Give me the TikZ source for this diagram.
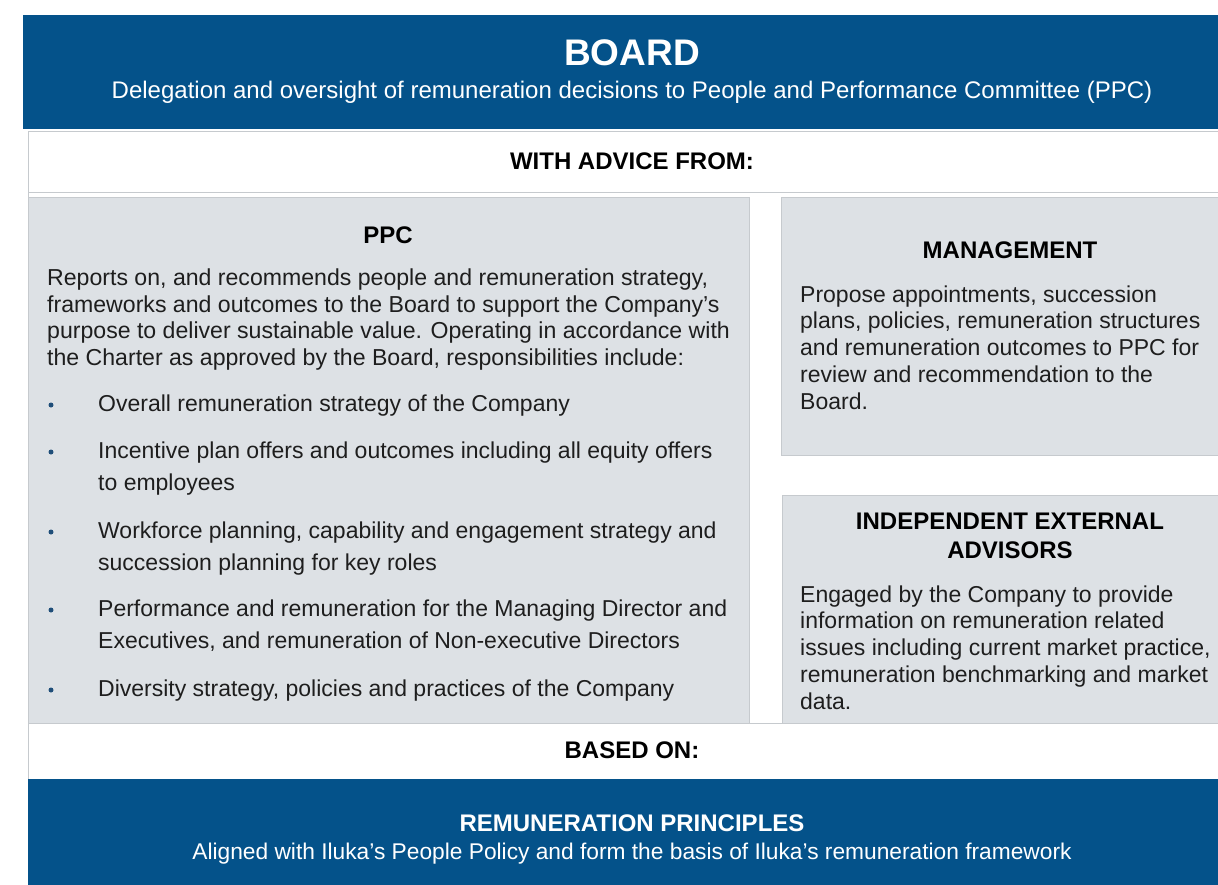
\documentclass[tikz,border=0pt]{standalone}
\usepackage{fontspec}
\setmainfont{Liberation Sans}
\definecolor{iblue}{HTML}{04528A}
\definecolor{igray}{HTML}{DDE1E5}
\definecolor{iborder}{HTML}{C6CACE}
\definecolor{itext}{HTML}{1E1E1E}
\definecolor{ibullet}{HTML}{1F4E79}
\begin{document}
\begin{tikzpicture}[x=1pt,y=-1pt,
  bluebox/.style={fill=iblue, draw=none, inner sep=0pt, anchor=north west},
  graybox/.style={fill=igray, draw=iborder, line width=0.8pt, inner sep=0pt, anchor=north west},
  whitebox/.style={fill=white, draw=iborder, line width=1pt, inner sep=0pt, anchor=north west},
  head/.style={font=\fontsize{24}{29}\selectfont\bfseries, text=black, inner sep=0pt, anchor=base, align=center},
  whitehead/.style={head, text=white},
  body/.style={font=\fontsize{23.1}{26.4}\selectfont, text=itext, inner sep=0pt, align=left, anchor=base west},
  mgmt/.style={body, font=\fontsize{23}{26.75}\selectfont},
  item/.style={body, font=\fontsize{23}{32}\selectfont},
  dot/.style={circle, fill=ibullet, inner sep=0pt, minimum size=5pt}
]
\useasboundingbox (0,0) rectangle (1218,884);
\clip (0,0) rectangle (1218,884);

% frame
\node[whitebox, minimum width=1200pt, minimum height=648pt] (frame) at (28,131) {};
\node[whitebox, minimum width=1200pt, minimum height=61pt] (advicerow) at (28,131) {};

% board
\node[bluebox, minimum width=1200pt, minimum height=114pt] (board) at (23,15) {};
\node[whitehead, font=\fontsize{37}{40}\selectfont\bfseries] (boardt) at (632,65) {BOARD};
\node[inner sep=0pt, anchor=base, text=white, font=\fontsize{24}{28}\selectfont] (boards) at (632,98)
  {Delegation and oversight of remuneration decisions to People and Performance Committee (PPC)};

\node[head] (advice) at (632,169) {WITH ADVICE FROM:};

% PPC (multi-line nodes are anchored at the baseline of their last line)
\node[graybox, minimum width=721pt, minimum height=526pt] (ppcbox) at (28,197) {};
\node[head] (ppct) at (388,243) {PPC};
\node[body] (ppctext) at (47,365) {Reports on, and recommends people and remuneration strategy,\\
frameworks and outcomes to the Board to support the Company’s\\
purpose to deliver sustainable value. Operating in accordance with\\
the Charter as approved by the Board, responsibilities include:};

\node[dot] (d1) at (51,405) {};
\node[item] (i1) at (98,411) {Overall remuneration strategy of the Company};
\node[dot] (d2) at (51,452) {};
\node[item] (i2) at (98,490) {Incentive plan offers and outcomes including all equity offers\\to employees};
\node[dot] (d3) at (51,532) {};
\node[item] (i3) at (98,570) {Workforce planning, capability and engagement strategy and\\succession planning for key roles};
\node[dot] (d4) at (51,610) {};
\node[item] (i4) at (98,648) {Performance and remuneration for the Managing Director and\\Executives, and remuneration of Non-executive Directors};
\node[dot] (d5) at (51,690) {};
\node[item] (i5) at (98,696) {Diversity strategy, policies and practices of the Company};

% Management
\node[graybox, minimum width=440pt, minimum height=258pt] (mgmtbox) at (781,197) {};
\node[head] (mgmtt) at (1010,258) {MANAGEMENT};
\node[mgmt] (mgmttext) at (800,409) {Propose appointments, succession\\
plans, policies, remuneration structures\\
and remuneration outcomes to PPC for\\
review and recommendation to the\\
Board.};

% Independent advisors
\node[graybox, minimum width=440pt, minimum height=228pt] (advbox) at (782,495) {};
\node[head] (advt) at (1010,558) {INDEPENDENT EXTERNAL\\ADVISORS};
\node[mgmt] (advtext) at (800,709) {Engaged by the Company to provide\\
information on remuneration related\\
issues including current market practice,\\
remuneration benchmarking and market\\
data.};

\draw[iborder, line width=0.8pt] (ppcbox.south west) -- (advbox.south east);

\node[head] (based) at (632,758) {BASED ON:};

% Principles
\node[bluebox, minimum width=1200pt, minimum height=110pt] (princ) at (28,779) {};
\node[whitehead] (princt) at (632,831) {REMUNERATION PRINCIPLES};
\node[inner sep=0pt, anchor=base, text=white, font=\fontsize{22.75}{26}\selectfont] (princs) at (632,859)
  {Aligned with Iluka’s People Policy and form the basis of Iluka’s remuneration framework};
\end{tikzpicture}
\end{document}
